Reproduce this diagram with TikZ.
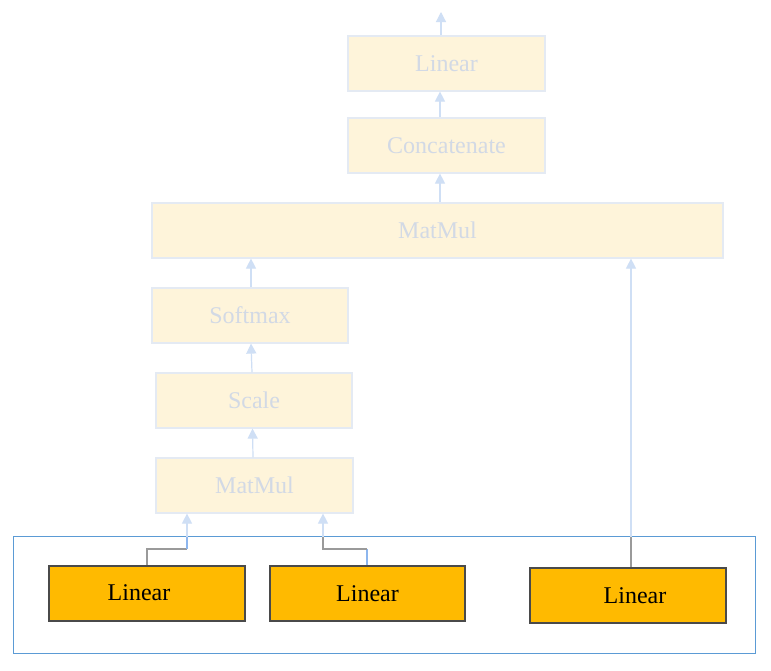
\documentclass[tikz,border=0pt]{standalone}
\usepackage{fontspec}
\setmainfont{Liberation Serif}
\usetikzlibrary{arrows.meta,calc}
\definecolor{fadefill}{HTML}{FEF4DA}
\definecolor{fadeline}{HTML}{E4EAF3}
\definecolor{fadetext}{HTML}{D2D9E5}
\definecolor{fadearrow}{HTML}{CFDFF5}
\definecolor{orangebox}{HTML}{FFBA00}
\definecolor{boxline}{HTML}{4A4A4A}
\definecolor{framecol}{HTML}{5B9BD5}
\definecolor{graylink}{HTML}{9A9A9A}
\definecolor{bluelink}{HTML}{8DB6EE}
\tikzset{
  fadebox/.style={draw=fadeline, line width=1.2pt, fill=fadefill, text=fadetext,
    minimum height=55pt, inner sep=0pt, font=\fontsize{24}{27}\selectfont},
  linbox/.style={draw=boxline, line width=1.6pt, fill=orangebox, text=black,
    minimum width=196pt, minimum height=55pt, inner sep=0pt, font=\fontsize{24}{27}\selectfont},
  fadearr/.style={draw=fadearrow, line width=1.2pt, -{Triangle[width=10pt,length=10pt]}},
  grayln/.style={draw=graylink, line width=1.2pt},
  blueln/.style={draw=bluelink, line width=1.2pt},
}
\begin{document}
\begin{tikzpicture}[x=1pt,y=-1pt]
\useasboundingbox[fill=white] (0,0) rectangle (771,670);
% faded upper boxes
\node[fadebox, minimum width=197pt] (lin) at (446.5,63.5) {Linear};
\node[fadebox, minimum width=197pt] (cat) at (446.5,145.5) {Concatenate};
\node[fadebox, minimum width=571pt] (mm) at (437.5,230.5) {MatMul};
\node[fadebox, minimum width=196pt] (sm) at (250,315.5) {Softmax};
\node[fadebox, minimum width=196pt] (sc) at (254,400.5) {Scale};
\node[fadebox, minimum width=197pt] (mm2) at (254.5,485.5) {MatMul};
% bottom frame and Linear boxes
\node[draw=framecol, line width=1pt, minimum width=742pt, minimum height=117pt, inner sep=0pt] (frame) at (384,594.5) {};
\node[linbox] (l1) at (147,593.5) {\hspace*{-16pt}\raisebox{2pt}{Linear}};
\node[linbox, minimum width=195pt] (l2) at (367.5,593.5) {\raisebox{-2pt}{Linear}};
\node[linbox] (l3) at (628,595.5) {\hspace*{14pt}Linear};
% faded arrows in the upper part
\coordinate (out) at (441,12);
\draw[fadearr] (lin.north -| out) -- (out);
\draw[fadearr] ($(cat.north)+(-6.5,0)$) -- ($(lin.south)+(-6.5,0)$);
\draw[fadearr] ($(mm.north)+(2.5,0)$) -- ($(cat.south)+(-6.5,0)$);
\draw[fadearr] ($(sm.north)+(1,0)$) -- ($(mm.south -| sm.north)+(1,0)$);
\draw[fadearr] ($(sc.north)+(-2,0)$) -- ($(sm.south)+(1,0)$);
\draw[fadearr] ($(mm2.north)+(-1.5,0)$) -- ($(sc.south)+(-1.5,0)$);
% links from the Linear boxes
\coordinate (a1) at (147,549);
\coordinate (a2) at (187,549);
\coordinate (a3) at (187,537);
\draw[grayln] (l1.north) -- (a1) -- (a2);
\draw[blueln] (a2) -- (a3);
\draw[fadearr] (a3) -- (a3 |- mm2.south);
\coordinate (b1) at (367,549);
\coordinate (b2) at (323,549);
\coordinate (b3) at (323,537);
\draw[blueln] (l2.north -| b1) -- (b1);
\draw[grayln] (b1) -- (b2) -- (b3);
\draw[fadearr] (b3) -- (b3 |- mm2.south);
\coordinate (c1) at (631,537);
\draw[grayln] (l3.north -| c1) -- (c1);
\draw[fadearr] (c1) -- (c1 |- mm.south);
\end{tikzpicture}
\end{document}
